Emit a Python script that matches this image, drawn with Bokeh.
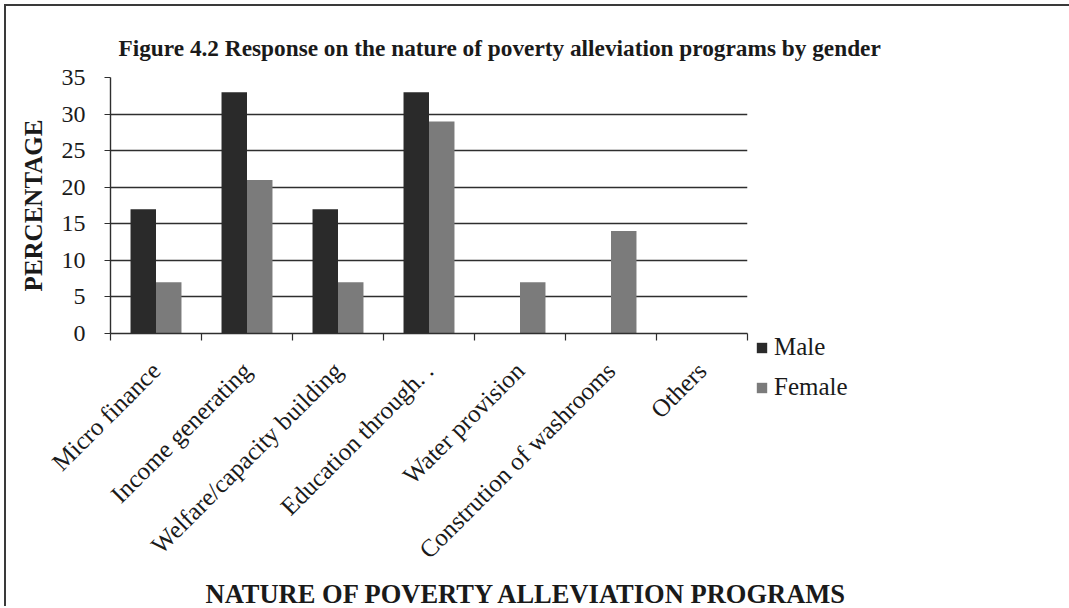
from math import pi

from bokeh.plotting import figure
from bokeh.models import (ColumnDataSource, Range1d, LinearAxis, FixedTicker,
                          Legend, LegendItem, Title)
from bokeh.transform import dodge
from bokeh.embed import file_html
from bokeh.resources import INLINE

# Survey responses (% of respondents) per programme type, split by gender
programs = ["Micro finance", "Income generating", "Welfare/capacity building",
            "Education through. .", "Water provision", "Constrution of washrooms", "Others"]
male = [17, 33, 17, 33, 0, 0, 0]
female = [7, 21, 7, 29, 7, 14, 0]
y_ticks = [0, 5, 10, 15, 20, 25, 30, 35]

SERIF = "Liberation Serif"
MALE_COLOR = "#2a2a2a"
FEMALE_COLOR = "#7b7b7b"
INK = "#1a1a1a"
LINE = "#2e2e2e"

# each programme occupies one unit slot on the x scale; bars sit around the slot centre
slots = list(range(len(programs) + 1))
centers = [i + 0.5 for i in range(len(programs))]
source = ColumnDataSource(dict(center=centers, male=male, female=female))

p = figure(
    x_range=Range1d(0, len(programs)), y_range=Range1d(0, 35),
    frame_width=637, frame_height=256,
    min_border_left=104, min_border_right=311, min_border_top=71, min_border_bottom=200,
    x_axis_location=None, y_axis_location=None,
    output_backend="svg", toolbar_location=None,
)
# thin page frame along the left and top edges
p.margin = (6, 0, 0, 6)
p.styles = {"box-shadow": "-2px -2px 0 0 #3a3a3a"}
p.outline_line_color = None
p.background_fill_color = "white"
p.border_fill_color = "white"

# Title
p.title = Title(text="Figure 4.2 Response on the nature of poverty alleviation programs by gender",
                align="left", offset=8, standoff=34,
                text_font=SERIF, text_font_size="23.3px", text_font_style="bold",
                text_color=INK)

# Grid
p.xgrid.grid_line_color = None
p.ygrid.ticker = FixedTicker(ticks=y_ticks)
p.ygrid.grid_line_color = LINE
p.ygrid.grid_line_width = 1.4

# Bars
bar_w = 0.28
r_m = p.vbar(x=dodge("center", -bar_w / 2), top="male", width=bar_w,
             source=source, fill_color=MALE_COLOR, line_color=None)
r_f = p.vbar(x=dodge("center", bar_w / 2), top="female", width=bar_w,
             source=source, fill_color=FEMALE_COLOR, line_color=None)

# Y axis
yaxis = LinearAxis(ticker=FixedTicker(ticks=y_ticks), axis_label="PERCENTAGE")
yaxis.axis_line_color = LINE
yaxis.axis_line_width = 1.4
yaxis.major_tick_line_color = LINE
yaxis.major_tick_out = 6
yaxis.major_tick_in = 0
yaxis.minor_tick_line_color = None
yaxis.major_label_standoff = 19
yaxis.major_label_text_font = SERIF
yaxis.major_label_text_font_size = "24px"
yaxis.major_label_text_color = INK
yaxis.axis_label_text_font = SERIF
yaxis.axis_label_text_font_size = "25px"
yaxis.axis_label_text_font_style = "bold"
yaxis.axis_label_text_color = INK
yaxis.axis_label_standoff = 12
p.add_layout(yaxis, "left")

# X axis: programme names at slot centres, tick marks at slot boundaries
xaxis = LinearAxis(ticker=FixedTicker(ticks=centers, minor_ticks=slots),
                   major_label_overrides={c: name for c, name in zip(centers, programs)})
xaxis.axis_line_color = LINE
xaxis.axis_line_width = 1.4
xaxis.major_tick_line_color = None
xaxis.major_tick_out = 0
xaxis.major_tick_in = 0
xaxis.minor_tick_line_color = LINE
xaxis.minor_tick_line_width = 1.2
xaxis.minor_tick_out = 7
xaxis.minor_tick_in = 0
xaxis.major_label_orientation = pi / 4
xaxis.major_label_standoff = 26
xaxis.major_label_text_font = SERIF
xaxis.major_label_text_font_size = "25px"
xaxis.major_label_text_color = INK
p.add_layout(xaxis, "below")

p.add_layout(Title(text="NATURE OF POVERTY ALLEVIATION PROGRAMS", align="left", offset=95,
                   standoff=0, text_font=SERIF, text_font_size="26.5px",
                   text_font_style="bold", text_color=INK), "below")

# Legend
legend = Legend(items=[LegendItem(label="Male", renderers=[r_m]),
                       LegendItem(label="Female", renderers=[r_f])],
                location=(8, -68), orientation="vertical",
                padding=0, margin=0, spacing=12, label_standoff=6,
                glyph_width=13, glyph_height=13,
                label_text_font=SERIF, label_text_font_size="25px",
                label_text_color=INK,
                border_line_color=None, background_fill_alpha=0)
p.add_layout(legend, "right")

html = file_html(p, INLINE)
html = html.replace("</head>", "<style>html, body { margin: 0; overflow: hidden; }</style></head>", 1)
open("out.html", "w").write(html)
